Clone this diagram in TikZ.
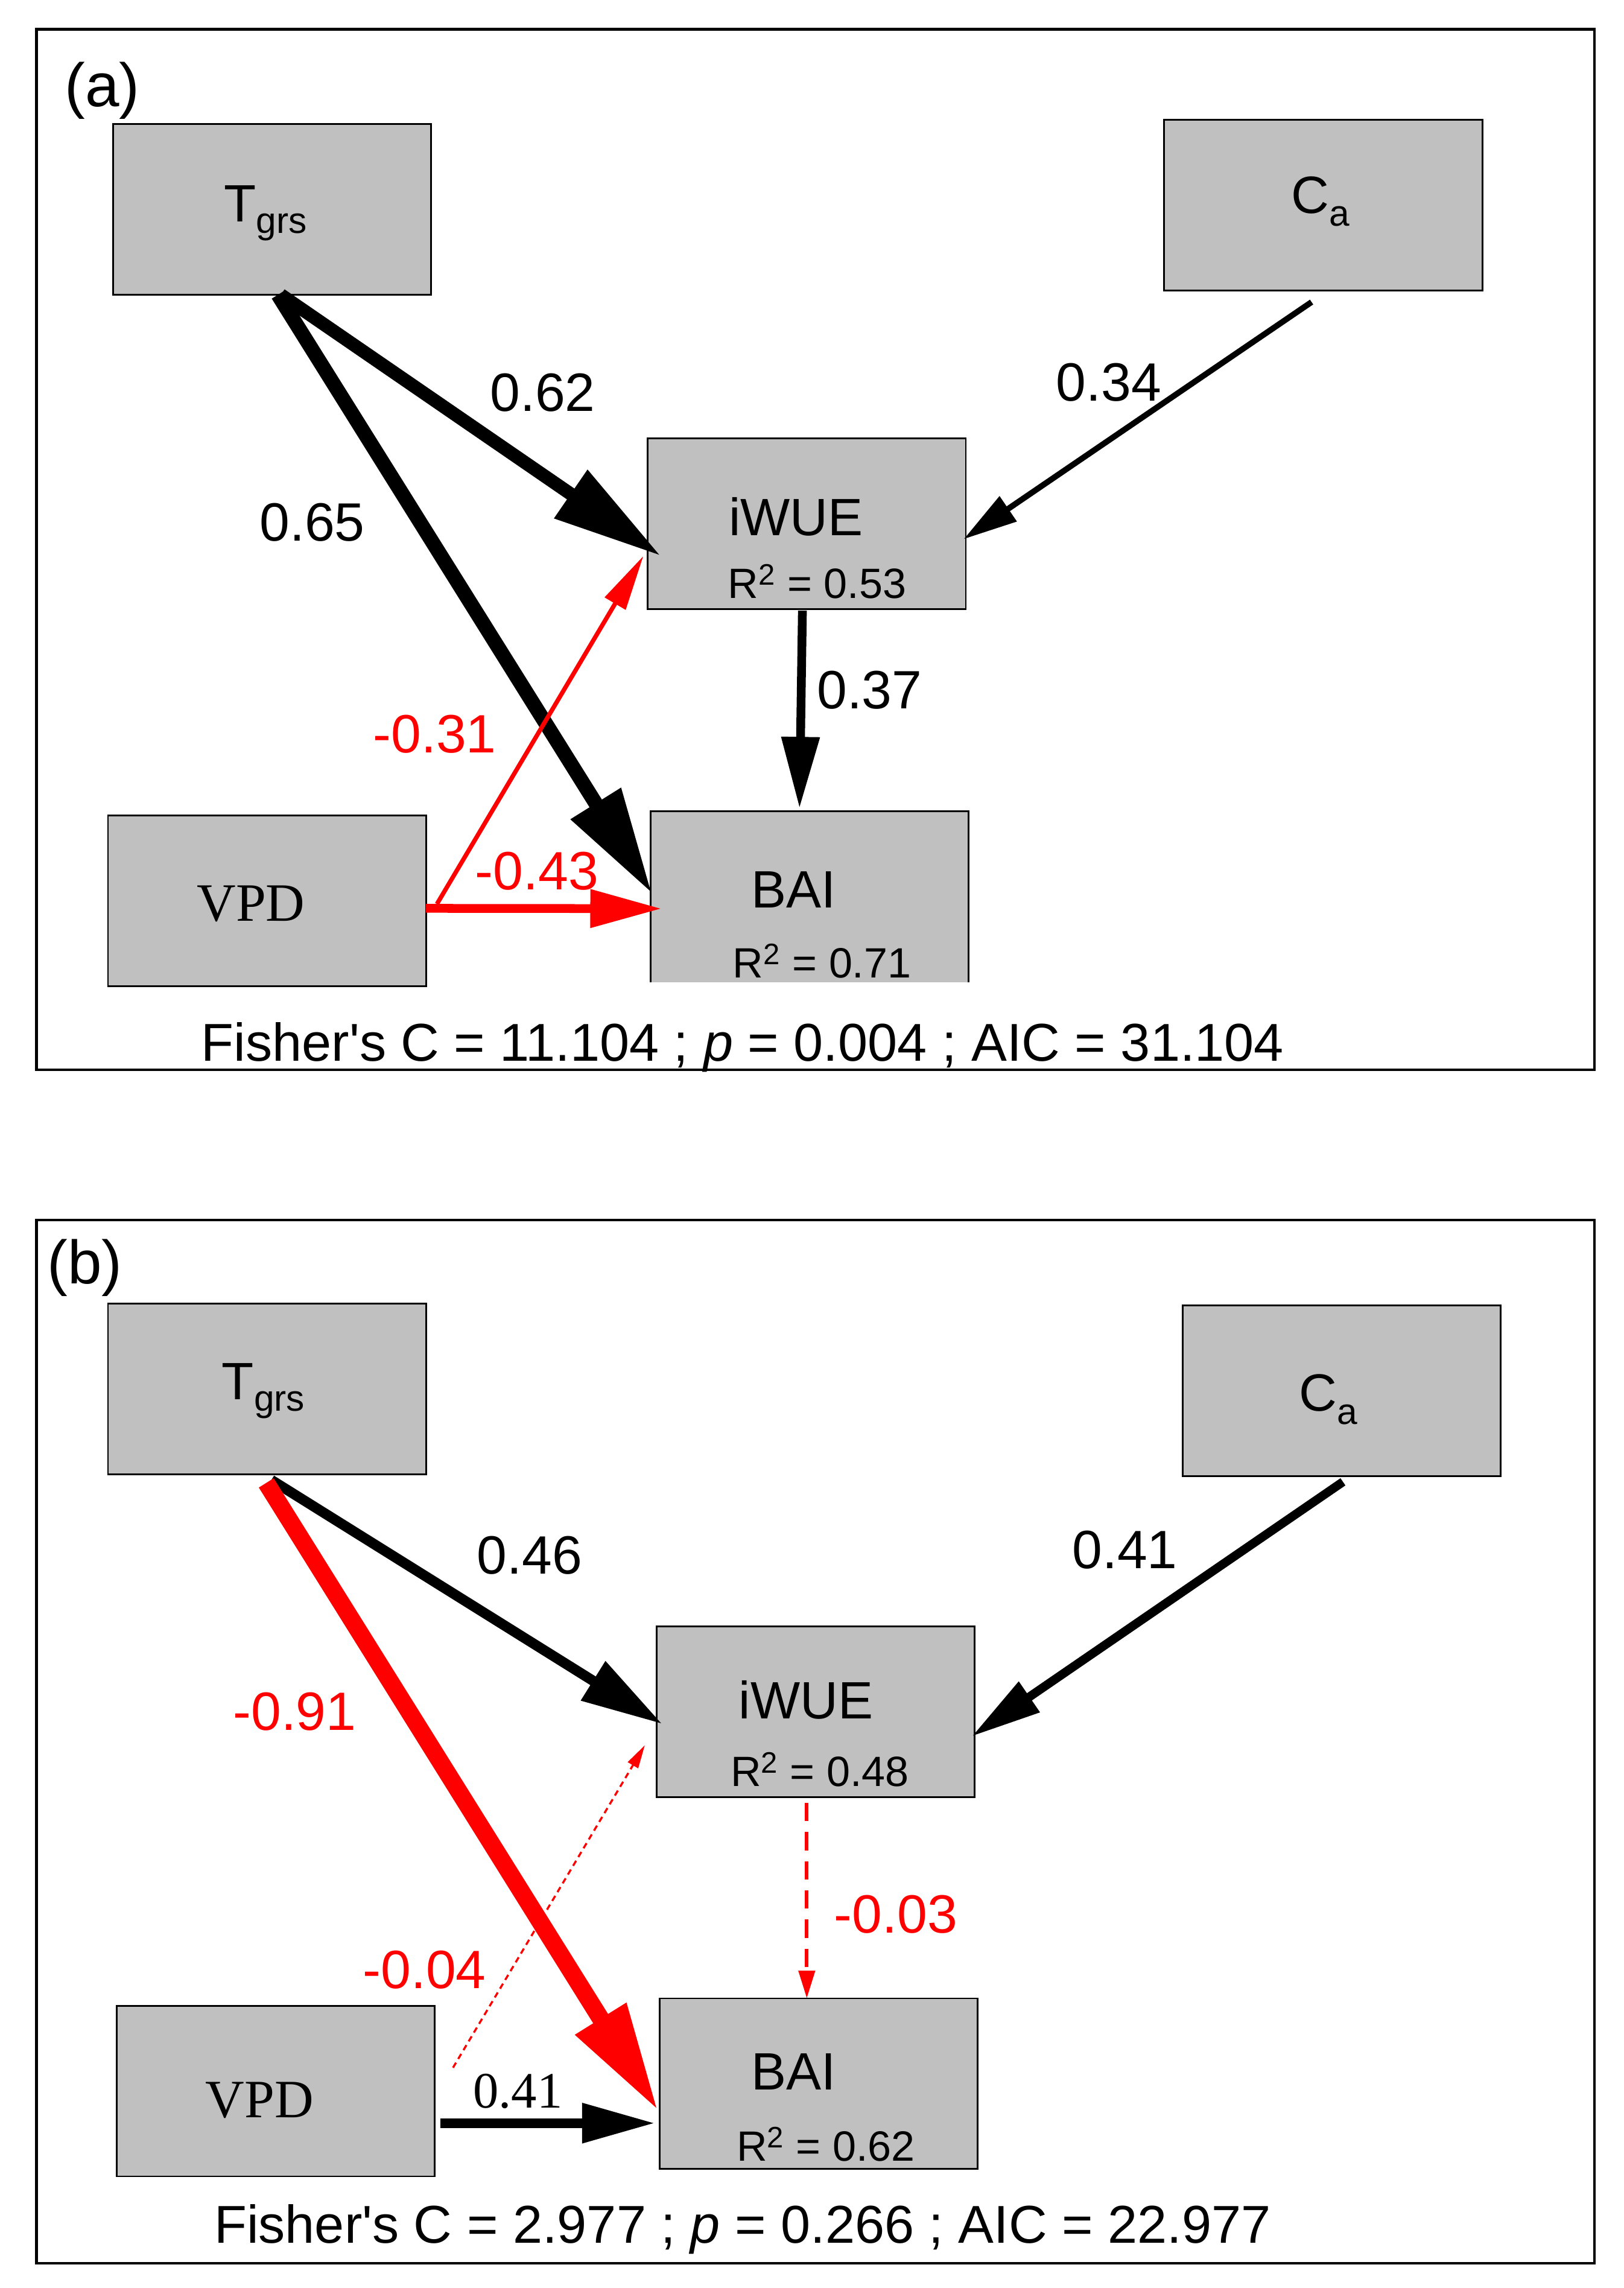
\documentclass[tikz,border=0pt]{standalone}
\usepackage{fontspec}
\setmainfont{Liberation Sans}[Ligatures=TeXOff]
\newfontfamily\serifrm{Liberation Serif}
\usetikzlibrary{arrows.meta,calc}
\definecolor{boxgray}{RGB}{192,192,192}
\newcommand\myfs[1]{\fontsize{#1}{#1}\selectfont}
\begin{document}
\begin{tikzpicture}[x=1pt,y=-1pt,
  box/.style={draw=black,line width=1.2pt,fill=boxgray,minimum width=218pt,minimum height=117pt,inner sep=0pt,outer sep=0pt},
  frame/.style={draw=black,line width=1.8pt},
  txt/.style={inner sep=0pt,outer sep=0pt,anchor=base,font=\myfs{36}},
  rtxt/.style={inner sep=0pt,outer sep=0pt,anchor=base,font=\myfs{29}},
  lab/.style={inner sep=0pt,outer sep=0pt,font=\myfs{37}},
  redlab/.style={lab,text=red},
  panel/.style={inner sep=0pt,outer sep=0pt,font=\myfs{42}},
  fisher/.style={inner sep=0pt,outer sep=0pt,anchor=base,font=\myfs{36.5}},
  conn/.style={line cap=butt,line join=miter},
]
\useasboundingbox (0,0) rectangle (1113,1568);
\fill[white] (0,0) rectangle (1113,1568);

% ---------------- panel (a) ----------------
\draw[frame] (25,20) rectangle (1093,733);
\node[panel] (pa) at (70,62) {(a)};

\node[box] (tA) at (186.5,143.5) {};
\node[box] (cA) at (907,140.5) {};
\node[box] (wA) at (553,359) {};
\node[box] (vA) at (183,617.5) {};
\node[box,draw=none] (bA) at (555,614.5) {};
\draw[line width=1.2pt] (bA.south west) -- (bA.north west) -- (bA.north east) -- (bA.south east);

\node[txt] (tAt) at (182,152) {T\raisebox{-8pt}{\myfs{25}grs}};
\node[txt] (cAt) at (905,146) {C\raisebox{-9pt}{\myfs{25}a}};
\node[txt] (wAt) at (545.5,367) {iWUE};
\node[rtxt] (wAr) at (560,410) {R\textsuperscript{2} = 0.53};
\node[txt] (bAt) at (544,622) {BAI};
\node[rtxt] (bAr) at (563.5,670) {R\textsuperscript{2} = 0.71};
\node[txt,font=\serifrm\myfs{37}] (vAt) at (172,631) {VPD};

\draw[conn,line width=9pt,-{Triangle[length=75pt,width=38pt]}]
  ($(tA.south)+(6,0)$) -- ($(wA.west)+(9,22)$);
\draw[conn,line width=10pt,-{Triangle[length=73pt,width=38pt]}]
  ($(tA.south)+(4,0)$) -- ($(bA.west)+(1,-2)$);
\draw[conn,line width=4pt,-{Triangle[length=37pt,width=20pt]}]
  ($(cA.south)+(-8,8)$) -- ($(wA.east)+(-1.5,10.5)$);
\draw[conn,line width=6pt,-{Triangle[length=49pt,width=25pt]}]
  ($(wA.south)+(-3,1)$) -- ($(bA.north)+(-7,-2)$);
\draw[conn,red,line width=3pt,-{Triangle[length=38pt,width=16pt]}]
  ($(vA.east)+(7.5,2)$) -- ($(wA.west)+(-3,22)$);
\draw[conn,red,line width=6pt,-{Triangle[length=49pt,width=25pt]}]
  ($(vA.east)+(0,5)$) -- ($(bA.west)+(7.6,8.2)$);

\node[lab] (l062) at (372,269) {0.62};
\node[lab] (l065) at (214,358) {0.65};
\node[lab] (l034) at (760,262) {0.34};
\node[lab] (l037) at (596,473) {0.37};
\node[redlab] (l031) at (298,503) {-0.31};
\node[redlab] (l043) at (368,597) {-0.43};

\node[fisher] (fa) at (509,727) {Fisher's C = 11.104 ; \textit{p} = 0.004 ; AIC = 31.104};

% ---------------- panel (b) ----------------
\draw[frame] (25,836) rectangle (1093,1551);
\node[panel] (pb) at (58,869) {(b)};

\node[box] (tB) at (183,951.75) {};
\node[box] (cB) at (919.5,953) {};
\node[box] (wB) at (559,1173) {};
\node[box] (vB) at (189,1433) {};
\node[box] (bB) at (561,1428) {};

\node[txt] (tBt) at (180.5,959) {T\raisebox{-8pt}{\myfs{25}grs}};
\node[txt] (cBt) at (910.5,967) {C\raisebox{-9pt}{\myfs{25}a}};
\node[txt] (wBt) at (552.5,1178) {iWUE};
\node[rtxt] (wBr) at (562,1224) {R\textsuperscript{2} = 0.48};
\node[txt] (bBt) at (544,1432) {BAI};
\node[rtxt] (bBr) at (566,1481) {R\textsuperscript{2} = 0.62};
\node[txt,font=\serifrm\myfs{37}] (vBt) at (178,1451) {VPD};

\draw[conn,line width=7pt,-{Triangle[length=56pt,width=30pt]}]
  ($(tB.south)+(3,4)$) -- ($(wB.west)+(4,8.5)$);
\draw[conn,red,line width=12pt,-{Triangle[length=75pt,width=38pt]}]
  ($(tB.south)+(-0.5,6)$) -- ($(bB.west)+(-0.6,19)$);
\draw[conn,line width=6pt,-{Triangle[length=48pt,width=24pt]}]
  ($(cB.south)+(1,4)$) -- ($(wB.east)+(-2,17)$);
\draw[conn,red,line width=2.5pt,dash pattern=on 12.5pt off 7.5pt,-{Triangle[length=19pt,width=11pt]}]
  ($(wB.south)+(-6,4)$) -- ($(bB.north)+(-8,0)$);
\draw[conn,red,line width=1.4pt,dash pattern=on 4pt off 3pt,-{Triangle[length=16pt,width=8pt]}]
  ($(vB.east)+(12.5,-16)$) -- ($(wB.west)+(-8,23)$);
\draw[conn,line width=6.5pt,-{Triangle[length=50pt,width=26pt]}]
  ($(vB.east)+(4,22)$) -- ($(bB.west)+(-3,27)$);

\node[lab] (l046) at (363,1066) {0.46};
\node[lab] (l041c) at (771,1062) {0.41};
\node[redlab] (l091) at (202,1173) {-0.91};
\node[redlab] (l003) at (614,1312) {-0.03};
\node[redlab] (l004) at (291,1350) {-0.04};
\node[lab,font=\serifrm\myfs{35}] (l041v) at (355,1433) {0.41};

\node[fisher] (fb) at (509,1537) {Fisher's C = 2.977 ; \textit{p} = 0.266 ; AIC = 22.977};
\end{tikzpicture}
\end{document}
